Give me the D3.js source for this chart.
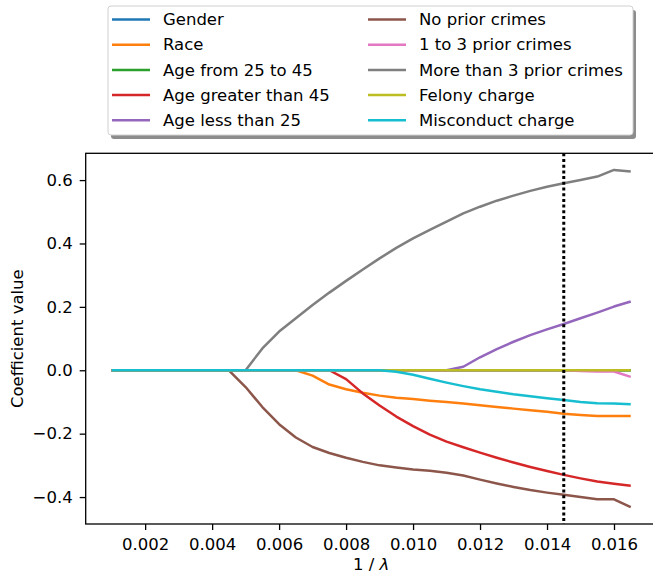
<!DOCTYPE html>
<html>
<head>
<meta charset="utf-8">
<script src="https://cdn.jsdelivr.net/npm/d3@7"></script>
<style>
  body { margin: 0; background: #fff; }
  svg { font-family: "DejaVu Sans", sans-serif; }
</style>
</head>
<body>
<svg width="653" height="573"></svg>
<script>
const w = 653;
const h = 573;
const fontSize = 16.5;

// 1 / lambda grid
const invLambda = [0.001, 0.0015, 0.002, 0.0025, 0.003, 0.0035, 0.004, 0.0045, 0.005, 0.0055,
	0.006, 0.0065, 0.007, 0.0075, 0.008, 0.0085, 0.009, 0.0095, 0.010, 0.0105,
	0.011, 0.0115, 0.012, 0.0125, 0.013, 0.0135, 0.014, 0.0145, 0.015, 0.0155,
	0.016, 0.0165];

const gender = [0, 0, 0, 0, 0, 0, 0, 0, 0, 0, 0, 0, 0, 0, 0, 0, 0, 0, 0, 0, 0, 0, 0, 0, 0, 0, 0, 0, 0, 0, 0, 0];
const race = [0, 0, 0, 0, 0, 0, 0, 0, 0, 0, 0, 0, -0.017, -0.045, -0.06, -0.071, -0.08, -0.087, -0.091, -0.096,
	-0.1, -0.105, -0.11, -0.116, -0.121, -0.126, -0.131, -0.137, -0.141, -0.144, -0.144, -0.144];
const age25to45 = [0, 0, 0, 0, 0, 0, 0, 0, 0, 0, 0, 0, 0, 0, 0, 0, 0, 0, 0, 0, 0, 0, 0, 0, 0, 0, 0, 0, 0, 0, 0, 0];
const ageOver45 = [0, 0, 0, 0, 0, 0, 0, 0, 0, 0, 0, 0, 0, 0, -0.028, -0.073, -0.111, -0.146, -0.176, -0.203,
	-0.225, -0.243, -0.26, -0.276, -0.291, -0.305, -0.318, -0.33, -0.341, -0.351, -0.358, -0.364];
const ageUnder25 = [0, 0, 0, 0, 0, 0, 0, 0, 0, 0, 0, 0, 0, 0, 0, 0, 0, 0, 0, 0,
	0, 0.011, 0.041, 0.067, 0.09, 0.111, 0.129, 0.146, 0.164, 0.182, 0.201, 0.217];
const noPrior = [0, 0, 0, 0, 0, 0, 0, 0, -0.053, -0.116, -0.17, -0.212, -0.242, -0.261, -0.276, -0.289, -0.3, -0.307, -0.313, -0.317,
	-0.323, -0.332, -0.345, -0.357, -0.368, -0.378, -0.386, -0.393, -0.4, -0.407, -0.407, -0.432];
const prior1to3 = [0, 0, 0, 0, 0, 0, 0, 0, 0, 0, 0, 0, 0, 0, 0, 0, 0, 0, 0, 0,
	0, 0, 0, 0, 0, 0, 0, 0, -0.002, -0.004, -0.004, -0.021];
const priorOver3 = [0, 0, 0, 0, 0, 0, 0, 0, 0, 0.069, 0.122, 0.164, 0.206, 0.245, 0.282, 0.318, 0.353, 0.386, 0.416, 0.443,
	0.469, 0.495, 0.516, 0.535, 0.551, 0.566, 0.579, 0.59, 0.6, 0.611, 0.632, 0.627];
const felony = [0, 0, 0, 0, 0, 0, 0, 0, 0, 0, 0, 0, 0, 0, 0, 0, 0, 0, 0, 0, 0, 0, 0, 0, 0, 0, 0, 0, 0, 0, 0, 0];
const misconduct = [0, 0, 0, 0, 0, 0, 0, 0, 0, 0, 0, 0, 0, 0, 0, 0, 0, -0.005, -0.014, -0.027,
	-0.039, -0.05, -0.06, -0.068, -0.076, -0.082, -0.088, -0.094, -0.1, -0.104, -0.105, -0.107];

const names = ['Gender', 'Race', 'Age from 25 to 45', 'Age greater than 45', 'Age less than 25',
	'No prior crimes', '1 to 3 prior crimes', 'More than 3 prior crimes', 'Felony charge', 'Misconduct charge'];
const series = [gender, race, age25to45, ageOver45, ageUnder25, noPrior, prior1to3, priorOver3, felony, misconduct];
const colors = ['#1f77b4', '#ff7f0e', '#2ca02c', '#d62728', '#9467bd', '#8c564b', '#e377c2', '#7f7f7f', '#bcbd22', '#17becf'];

const xTicks = [0.002, 0.004, 0.006, 0.008, 0.010, 0.012, 0.014, 0.016];
const yTicks = [-0.4, -0.2, 0.0, 0.2, 0.4, 0.6];
const chosen = 0.0145;

const padL = 85.7, padR = 656.7, padT = 153.3, padB = 524;

let canvas = d3.select('svg');

let xScale = d3.scaleLinear().domain([0.000225, 0.017275]).range([padL, padR]);
let yScale = d3.scaleLinear().domain([-0.485, 0.6845]).range([padB, padT]);

// lines
const line = d3.line()
	.x((d, i) => xScale(invLambda[i]))
	.y((d) => yScale(d));

canvas.append('g')
	.selectAll('path')
	.data(series)
	.enter()
	.append('path')
	.attr('d', (d) => line(d))
	.attr('fill', 'none')
	.attr('stroke', (d, i) => colors[i])
	.attr('stroke-width', 2.5)
	.attr('stroke-linejoin', 'round');

// chosen lambda
canvas.append('line')
	.attr('x1', xScale(chosen))
	.attr('x2', xScale(chosen))
	.attr('y1', padT)
	.attr('y2', padB)
	.attr('stroke', 'black')
	.attr('stroke-width', 3)
	.attr('stroke-dasharray', '3,2.7');

// axes
let xAxis = d3.axisBottom(xScale).tickValues(xTicks).tickFormat(d3.format('.3f')).tickSizeOuter(0).tickSize(6).tickPadding(8);
let yAxis = d3.axisLeft(yScale).tickValues(yTicks).tickFormat(d3.format('.1f')).tickSizeOuter(0).tickSize(6).tickPadding(7);

canvas.append('g')
	.attr('transform', `translate(0, ${padB})`)
	.call(xAxis)
	.call((g) => g.selectAll('text').attr('font-size', fontSize).attr('fill', '#000').attr('font-family', 'DejaVu Sans'))
	.call((g) => g.select('.domain').remove());

canvas.append('g')
	.attr('transform', `translate(${padL}, 0)`)
	.call(yAxis)
	.call((g) => g.selectAll('text').attr('font-size', fontSize).attr('fill', '#000').attr('font-family', 'DejaVu Sans'))
	.call((g) => g.select('.domain').remove());

canvas.selectAll('.tick line').attr('stroke', '#000').attr('stroke-width', 1.3);

// spines
canvas.append('rect')
	.attr('x', padL)
	.attr('y', padT)
	.attr('width', padR - padL)
	.attr('height', padB - padT)
	.attr('fill', 'none')
	.attr('stroke', '#000')
	.attr('stroke-width', 1.3);

// axis labels
const xlab = canvas.append('text')
	.attr('x', (padL + padR) / 2)
	.attr('y', 570)
	.attr('text-anchor', 'middle')
	.attr('font-size', fontSize);
xlab.append('tspan').text('1 / ');
xlab.append('tspan').attr('font-style', 'italic').text('λ');

canvas.append('text')
	.attr('transform', `translate(23, ${(padT + padB) / 2}) rotate(-90)`)
	.attr('text-anchor', 'middle')
	.attr('font-size', fontSize)
	.text('Coefficient value');

// legend
const lg = canvas.append('g');
const lx = 108, ly = 6, lw = 525, lh = 129;
lg.append('rect')
	.attr('x', lx + 3).attr('y', ly + 4)
	.attr('width', lw).attr('height', lh)
	.attr('rx', 3)
	.attr('fill', '#8c8c8c');
lg.append('rect')
	.attr('x', lx).attr('y', ly)
	.attr('width', lw).attr('height', lh)
	.attr('rx', 3)
	.attr('fill', '#fff')
	.attr('stroke', '#d0d0d0')
	.attr('stroke-width', 1);

const items = lg.selectAll('g.item')
	.data(names)
	.enter()
	.append('g')
	.attr('class', 'item')
	.attr('transform', (d, i) => `translate(${i < 5 ? 112 : 368}, ${19.5 + (i % 5) * 25.2})`);

items.append('line')
	.attr('x1', 0).attr('x2', 38)
	.attr('stroke', (d, i) => colors[i])
	.attr('stroke-width', 2.5);

items.append('text')
	.attr('x', 51)
	.attr('dy', '0.35em')
	.attr('font-size', fontSize)
	.text((d) => d);
</script>
</body>
</html>
